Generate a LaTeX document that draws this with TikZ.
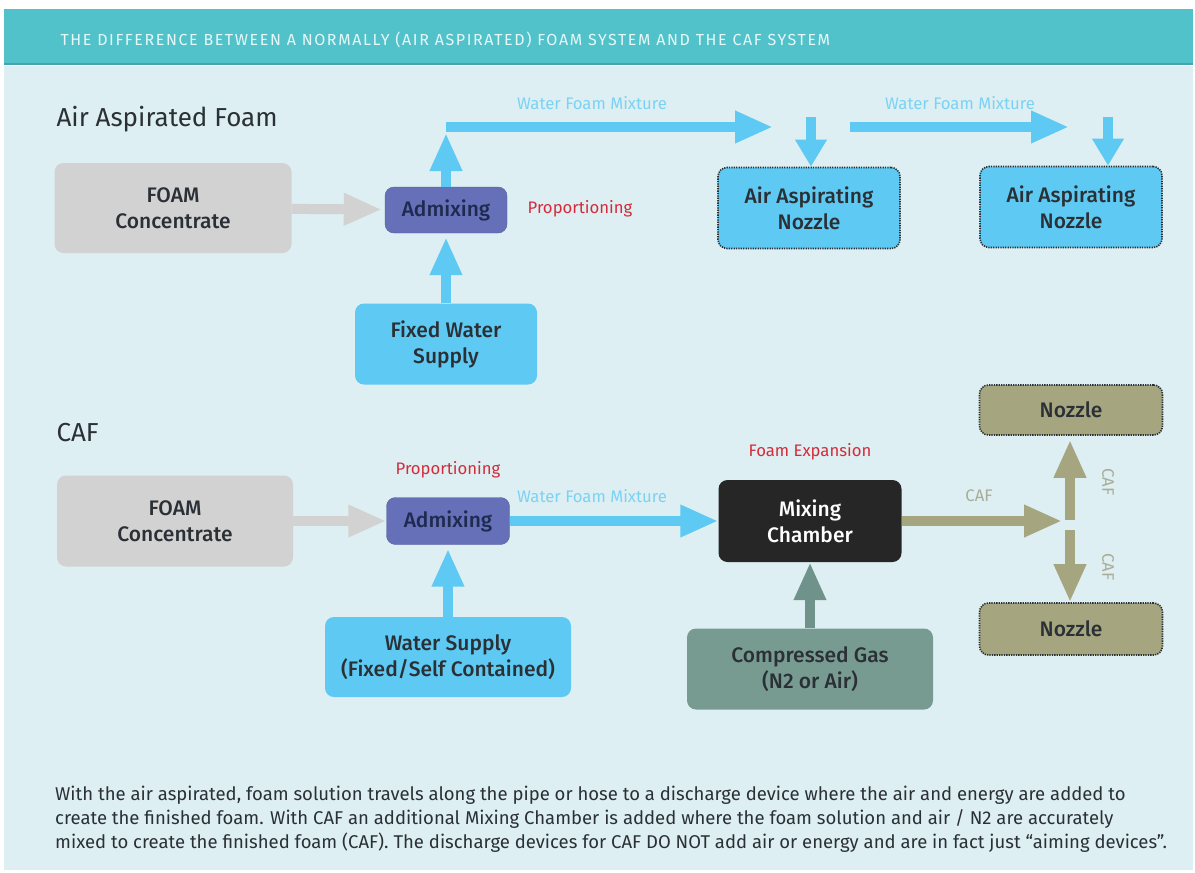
\documentclass[tikz,border=0pt]{standalone}
\usepackage{fontspec}
\setmainfont{Fira Sans}
\newfontfamily\boxfont{Fira Sans}[UprightFont={* Medium}]
\newfontfamily\headfont[LetterSpace=10]{Fira Sans}
\usetikzlibrary{arrows.meta}

\definecolor{bgcol}{HTML}{DDEFF2}
\definecolor{headcol}{HTML}{52C2CA}
\definecolor{headtext}{HTML}{E6F7F8}
\definecolor{foamgray}{HTML}{D2D2D2}
\definecolor{admix}{HTML}{6670B8}
\definecolor{admixtext}{HTML}{1F2A50}
\definecolor{water}{HTML}{5EC9F2}
\definecolor{mixlabel}{HTML}{7CD2F2}
\definecolor{propred}{HTML}{D42B3A}
\definecolor{chamber}{HTML}{262626}
\definecolor{gas}{HTML}{789B91}
\definecolor{gasarrow}{HTML}{6F928A}
\definecolor{caf}{HTML}{A5A67F}
\definecolor{caflabel}{HTML}{A9AC96}
\definecolor{ink}{HTML}{2A3035}

\begin{document}
\begin{tikzpicture}[x=1pt, y=-1pt,
    box/.style={rounded corners=9pt, align=center, inner sep=0pt, text=ink, font=\boxfont\fontsize{21}{26}\selectfont},
    nozzlebox/.style={box, draw=ink, line width=1.6pt, dash pattern=on 1.3pt off 1.1pt},
    flow/.style={line width=10pt, -{Triangle[width=30pt,length=38pt]}},
    drop/.style={line width=10pt, -{Triangle[width=30pt,length=27pt]}},
    lbl/.style={font=\fontsize{16.7}{18}\selectfont}]
    % frame and header
    \fill[white] (0,0) rectangle (1195,873);
    \fill[bgcol] (4,66) rectangle (1193,870);
    \fill[headcol] (4,9) rectangle (1193,65);
    \fill[headcol!85!black] (4,63) rectangle (1193,65);
    \node[anchor=west, text=headtext, font=\headfont\fontsize{16}{18}\selectfont] (head) at (57,40) {THE DIFFERENCE BETWEEN A NORMALLY (AIR ASPIRATED) FOAM SYSTEM AND THE CAF SYSTEM};

    % air aspirated foam
    \node[anchor=west, text=ink, font=\fontsize{26}{30}\selectfont] (title1) at (53,119) {Air Aspirated Foam};
    \node[box, fill=foamgray, minimum width=237pt, minimum height=90pt] (foam1) at (173,208) {FOAM\\Concentrate};
    \node[box, fill=admix, draw=admix!85!black, text=admixtext, minimum width=122pt, minimum height=46pt] (adm1) at (446,210) {Admixing};
    \node[box, fill=water, minimum width=182pt, minimum height=81pt] (fws) at (446,344) {Fixed Water\\Supply};
    \node[nozzlebox, fill=water, minimum width=182pt, minimum height=81pt] (noz1) at (809,208) {Air Aspirating\\Nozzle};
    \node[nozzlebox, fill=water, minimum width=182pt, minimum height=81pt] (noz2) at (1071,207) {Air Aspirating\\Nozzle};
    \node[lbl, text=mixlabel] (wfm1) at (592,103) {Water Foam Mixture};
    \node[lbl, text=mixlabel] (wfm2) at (960,103) {Water Foam Mixture};
    \node[lbl, text=propred] (prop1) at (580,209) {Proportioning};

    \coordinate (split1) at (446,127);
    \coordinate (end1) at (773,127);
    \coordinate (drop1) at (811,117);
    \coordinate (start2) at (850,127);
    \coordinate (end2) at (1069,127);
    \coordinate (drop2) at (1108,117);
    \draw[flow, foamgray, shorten >=3pt] (foam1) -- (adm1);
    \draw[flow, water, shorten >=4pt] (fws) -- (adm1);
    \draw[flow, water, shorten >=6pt] (adm1) -- (split1);
    \draw[flow, water] (split1) -- (end1);
    \draw[drop, water] (drop1) -- (drop1 |- noz1.north);
    \draw[flow, water] (start2) -- (end2);
    \draw[drop, water] (drop2) -- (drop2 |- noz2.north);

    % CAF
    \node[anchor=west, text=ink, font=\fontsize{26}{30}\selectfont] (title2) at (53,433) {CAF};
    \node[box, fill=foamgray, minimum width=236pt, minimum height=91pt] (foam2) at (175,521) {FOAM\\Concentrate};
    \node[box, fill=admix, draw=admix!85!black, text=admixtext, minimum width=123pt, minimum height=47pt] (adm2) at (448,521) {Admixing};
    \node[box, fill=water, minimum width=246pt, minimum height=80pt] (ws) at (448,657) {Water Supply\\(Fixed/Self Contained)};
    \node[box, fill=chamber, text=white, minimum width=183pt, minimum height=82pt] (mix) at (810,521) {Mixing\\Chamber};
    \node[box, fill=gas, minimum width=246pt, minimum height=81pt] (gas) at (810,669) {Compressed Gas\\(N2 or Air)};
    \node[nozzlebox, fill=caf, minimum width=183pt, minimum height=50pt] (noz3) at (1071,410) {Nozzle};
    \node[nozzlebox, fill=caf, minimum width=183pt, minimum height=52pt] (noz4) at (1071,629) {Nozzle};
    \node[lbl, text=propred] (prop2) at (448,470) {Proportioning};
    \node[lbl, text=mixlabel] (wfm3) at (592,496) {Water Foam Mixture};
    \node[lbl, text=propred] (expand) at (810,452) {Foam Expansion};
    \node[lbl, text=caflabel] (caf1) at (979,496) {CAF};
    \node[lbl, text=caflabel, rotate=-90] (caf2) at (1108,482) {CAF};
    \node[lbl, text=caflabel, rotate=-90] (caf3) at (1108,567) {CAF};

    \coordinate (junc) at (1062,521);
    \coordinate (cafup) at (1070,520);
    \coordinate (cafdown) at (1070,530);
    \draw[flow, foamgray] (foam2) -- (adm2);
    \draw[flow, water, shorten >=4pt] (ws) -- (adm2);
    \draw[flow, water] (adm2) -- (mix);
    \draw[flow, gasarrow] (gas) -- (mix);
    \draw[flow, caf] (mix) -- (junc);
    \draw[flow, caf, shorten >=4pt] (cafup) -- (cafup |- noz3.south);
    \draw[flow, caf] (cafdown) -- (cafdown |- noz4.north);

    % note
    \node[anchor=north west, align=left, inner sep=0pt, text=ink, font=\fontsize{18.5}{24}\selectfont] (note) at (55,786) {With the air aspirated, foam solution travels along the pipe or hose to a discharge device where the air and energy are added to\\create the finished foam. With CAF an additional Mixing Chamber is added where the foam solution and air / N2 are accurately\\mixed to create the finished foam (CAF). The discharge devices for CAF DO NOT add air or energy and are in fact just “aiming devices”.};
\end{tikzpicture}
\end{document}
